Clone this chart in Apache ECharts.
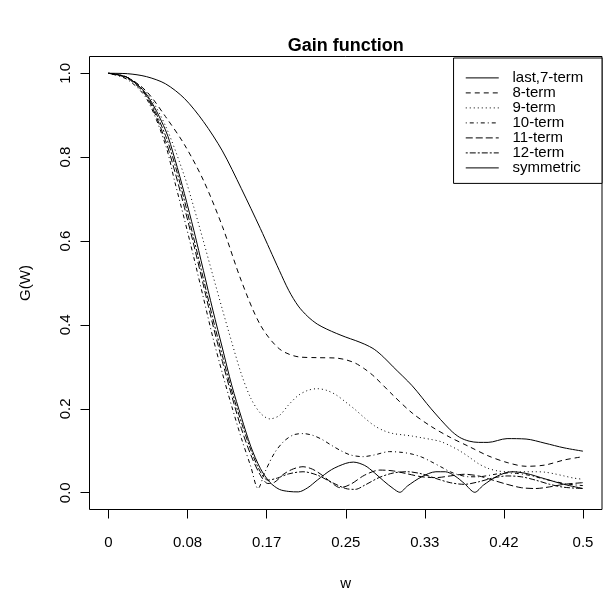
<!DOCTYPE html>
<html><head><meta charset="utf-8">
<script src="https://cdn.jsdelivr.net/npm/echarts@6/dist/echarts.min.js"></script>
<style>html,body{margin:0;padding:0;background:#fff}#c{width:604px;height:594px}</style>
</head><body><div id="c"></div>
<script>
// ---- data ----
const xTicks = [0, 1/12, 2/12, 3/12, 4/12, 5/12, 6/12];
const xTickLabels = ['0', '0.08', '0.17', '0.25', '0.33', '0.42', '0.5'];
const yTicks = [0, 0.2, 0.4, 0.6, 0.8, 1.0];
const seriesNames = ['last,7-term', '8-term', '9-term', '10-term', '11-term', '12-term', 'symmetric'];

const wLast7 = [0, 0.02, 0.04, 0.06, 0.08, 0.10, 0.12, 0.14, 0.16, 0.17, 0.18, 0.19, 0.20, 0.21, 0.22, 0.23, 0.24, 0.25, 0.26, 0.27, 0.28, 0.29, 0.30, 0.32, 0.34, 0.36, 0.37, 0.38, 0.39, 0.40, 0.42, 0.44, 0.46, 0.48, 0.50];
const gLast7 = [1.0, 0.999, 0.992, 0.975, 0.94, 0.885, 0.815, 0.725, 0.63, 0.58, 0.53, 0.482, 0.445, 0.42, 0.402, 0.39, 0.38, 0.371, 0.363, 0.354, 0.342, 0.323, 0.30, 0.255, 0.20, 0.15, 0.132, 0.123, 0.12, 0.12, 0.129, 0.128, 0.118, 0.107, 0.099];

const w8 = [0, 0.02, 0.04, 0.06, 0.08, 0.10, 0.12, 0.14, 0.16, 0.18, 0.20, 0.22, 0.24, 0.25, 0.26, 0.27, 0.28, 0.30, 0.32, 0.34, 0.36, 0.38, 0.40, 0.42, 0.44, 0.46, 0.48, 0.50];
const g8 = [1.0, 0.99, 0.957, 0.897, 0.83, 0.745, 0.635, 0.505, 0.40, 0.343, 0.324, 0.322, 0.321, 0.317, 0.309, 0.295, 0.277, 0.232, 0.19, 0.158, 0.132, 0.11, 0.088, 0.072, 0.063, 0.066, 0.078, 0.086];

const w9 = [0, 0.02, 0.04, 0.06, 0.08, 0.09, 0.10, 0.11, 0.12, 0.13, 0.14, 0.15, 0.16, 0.17, 0.18, 0.19, 0.20, 0.21, 0.22, 0.23, 0.24, 0.25, 0.26, 0.27, 0.28, 0.29, 0.30, 0.31, 0.32, 0.33, 0.34, 0.35, 0.36, 0.37, 0.38, 0.39, 0.40, 0.41, 0.42, 0.43, 0.44, 0.45, 0.46, 0.47, 0.48, 0.49, 0.50];
const g9 = [1.0, 0.99, 0.955, 0.875, 0.755, 0.68, 0.6, 0.518, 0.437, 0.358, 0.283, 0.225, 0.19, 0.176, 0.184, 0.21, 0.232, 0.244, 0.248, 0.244, 0.233, 0.216, 0.198, 0.178, 0.16, 0.148, 0.141, 0.138, 0.135, 0.131, 0.127, 0.122, 0.112, 0.1, 0.085, 0.069, 0.058, 0.052, 0.05, 0.05, 0.05, 0.05, 0.049, 0.045, 0.04, 0.035, 0.032];

const w10 = [0, 0.02, 0.04, 0.06, 0.07, 0.08, 0.09, 0.10, 0.11, 0.12, 0.13, 0.14, 0.15, 0.1576, 0.165, 0.175, 0.185, 0.195, 0.205, 0.215, 0.225, 0.235, 0.245, 0.255, 0.268, 0.28, 0.296, 0.31, 0.32, 0.33, 0.34, 0.35, 0.36, 0.37, 0.38, 0.39, 0.40, 0.41, 0.42, 0.43, 0.44, 0.45, 0.46, 0.47, 0.48, 0.49, 0.50];
const g10 = [1.0, 0.985, 0.94, 0.83, 0.74, 0.652, 0.56, 0.465, 0.37, 0.285, 0.205, 0.13, 0.062, 0.01, 0.05, 0.095, 0.123, 0.138, 0.141, 0.137, 0.127, 0.113, 0.1, 0.09, 0.086, 0.09, 0.098, 0.096, 0.092, 0.085, 0.074, 0.062, 0.05, 0.042, 0.038, 0.038, 0.041, 0.045, 0.047, 0.046, 0.043, 0.038, 0.032, 0.027, 0.022, 0.019, 0.017];

const w11 = [0, 0.02, 0.04, 0.06, 0.07, 0.08, 0.09, 0.10, 0.11, 0.12, 0.13, 0.14, 0.15, 0.16, 0.168, 0.175, 0.185, 0.195, 0.205, 0.215, 0.225, 0.235, 0.244, 0.255, 0.27, 0.286, 0.30, 0.315, 0.33, 0.345, 0.36, 0.375, 0.39, 0.405, 0.42, 0.435, 0.45, 0.465, 0.48, 0.50];
const g11 = [1.0, 0.988, 0.945, 0.84, 0.765, 0.68, 0.59, 0.495, 0.40, 0.313, 0.23, 0.153, 0.09, 0.042, 0.022, 0.025, 0.045, 0.057, 0.062, 0.056, 0.042, 0.024, 0.012, 0.02, 0.042, 0.054, 0.052, 0.045, 0.038, 0.036, 0.04, 0.044, 0.04, 0.03, 0.02, 0.012, 0.01, 0.014, 0.02, 0.024];

const w12 = [0, 0.02, 0.04, 0.06, 0.07, 0.08, 0.09, 0.10, 0.11, 0.12, 0.13, 0.14, 0.15, 0.16, 0.168, 0.178, 0.19, 0.205, 0.22, 0.235, 0.25, 0.26, 0.27, 0.285, 0.30, 0.315, 0.33, 0.345, 0.36, 0.375, 0.39, 0.405, 0.42, 0.435, 0.45, 0.465, 0.48, 0.50];
const g12 = [1.0, 0.99, 0.948, 0.852, 0.782, 0.697, 0.605, 0.51, 0.415, 0.327, 0.242, 0.168, 0.102, 0.05, 0.03, 0.035, 0.045, 0.05, 0.042, 0.025, 0.01, 0.008, 0.018, 0.036, 0.047, 0.05, 0.045, 0.034, 0.024, 0.02, 0.026, 0.035, 0.04, 0.038, 0.03, 0.02, 0.013, 0.01];

const wSym = [0, 0.02, 0.04, 0.06, 0.07, 0.08, 0.09, 0.10, 0.11, 0.12, 0.13, 0.14, 0.15, 0.16, 0.17, 0.18, 0.19, 0.20, 0.21, 0.22, 0.235, 0.25, 0.258, 0.27, 0.28, 0.29, 0.30, 0.307, 0.315, 0.33, 0.345, 0.355, 0.365, 0.375, 0.386, 0.395, 0.41, 0.425, 0.44, 0.46, 0.48, 0.50];
const gSym = [1.0, 0.99, 0.95, 0.865, 0.795, 0.713, 0.625, 0.53, 0.435, 0.345, 0.255, 0.18, 0.11, 0.058, 0.025, 0.008, 0.003, 0.002, 0.012, 0.03, 0.055, 0.07, 0.073, 0.065, 0.048, 0.028, 0.01, 0.001, 0.016, 0.038, 0.05, 0.05, 0.04, 0.022, 0.001, 0.018, 0.04, 0.05, 0.046, 0.033, 0.02, 0.01];

const wList = [wLast7, w8, w9, w10, w11, w12, wSym];
const gList = [gLast7, g8, g9, g10, g11, g12, gSym];
const dashTypes = ['solid', [5, 4], [1, 3], [1, 3, 4, 3], [7, 3], [2, 2, 6, 2], 'solid'];

// ---- chart ----
const FONT = '"Liberation Sans", Arial, Helvetica, sans-serif';
const chart = echarts.init(document.getElementById('c'), null, {renderer: 'canvas'});
const option = {
  animation: false,
  backgroundColor: '#fff',
  textStyle: {fontFamily: FONT, color: '#000'},
  title: {
    text: 'Gain function', left: 345.8, top: 37, textAlign: 'center', padding: 0,
    textStyle: {fontSize: 18, fontWeight: 'bold', color: '#000', fontFamily: FONT, lineHeight: 18}
  },
  grid: {left: 89.5, right: 2, top: 56.5, bottom: 84.5, show: true, borderColor: '#000', borderWidth: 1, backgroundColor: 'transparent', containLabel: false, outerBoundsMode: 'none'},
  legend: {
    orient: 'vertical', right: 2, top: 58, itemWidth: 33, itemHeight: 14, itemGap: 0,
    padding: [12.4, 18.7, 8, 11.7], borderColor: '#000', borderWidth: 1, backgroundColor: '#fff',
    selectedMode: false,
    itemStyle: {opacity: 0, color: 'rgba(0,0,0,0)', borderWidth: 0},
    lineStyle: {width: 1, color: '#000'},
    textStyle: {fontSize: 15, color: '#000', fontFamily: FONT, lineHeight: 14.2, padding: [0, 0, 0, 8.7]},
    data: seriesNames
  },
  xAxis: {
    type: 'value', min: -0.02, max: 0.52,
    axisLine: {show: false, onZero: false},
    splitLine: {show: false},
    axisTick: {show: true, length: 9, customValues: xTicks, lineStyle: {color: '#000', width: 1}},
    axisLabel: {customValues: xTicks, formatter: v => xTickLabels[Math.round(v * 12)], fontSize: 15, color: '#000', fontFamily: FONT, margin: 25, lineHeight: 16},
    name: 'w', nameLocation: 'middle', nameGap: 66,
    nameTextStyle: {fontSize: 15, color: '#000', fontFamily: FONT, lineHeight: 16}
  },
  yAxis: {
    type: 'value', min: -0.04, max: 1.04,
    axisLine: {show: false, onZero: false},
    splitLine: {show: false},
    axisTick: {show: true, length: 9, customValues: yTicks, lineStyle: {color: '#000', width: 1}},
    axisLabel: {customValues: yTicks, formatter: v => v.toFixed(1), rotate: 90, fontSize: 15, color: '#000', fontFamily: FONT, margin: 16, lineHeight: 16},
    name: 'G(W)', nameLocation: 'middle', nameGap: 56,
    nameTextStyle: {fontSize: 15, color: '#000', fontFamily: FONT, lineHeight: 16}
  },
  series: seriesNames.map((name, k) => ({
    name: name, type: 'line', symbol: 'none', showSymbol: false, smooth: 0.3, silent: true,
    itemStyle: {color: '#000'},
    data: wList[k].map((x, i) => [x, gList[k][i]]),
    lineStyle: {color: '#000', width: 1, type: dashTypes[k]}
  }))
};
chart.setOption(option);
</script>
</body></html>
